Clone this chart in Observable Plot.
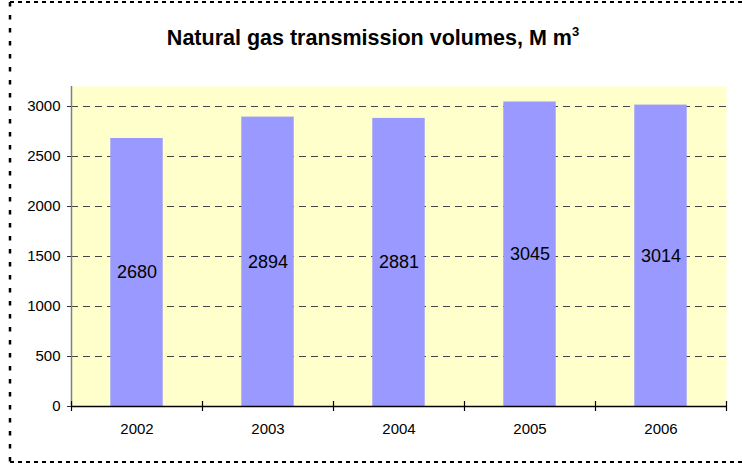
<!DOCTYPE html>
<html><head><meta charset="utf-8">
<script src="https://cdn.jsdelivr.net/npm/d3@7"></script>
<script src="https://cdn.jsdelivr.net/npm/@observablehq/plot@0.6"></script>
<style>
body{margin:0;background:#fff;}
#wrap{position:relative;width:742px;height:464px;overflow:hidden;font-family:"Liberation Sans",Arial,sans-serif;}
#title{position:absolute;left:0;top:28px;width:746px;text-align:center;font-weight:bold;font-size:21.5px;line-height:21px;color:#000;white-space:nowrap;}
#title sup{font-size:13px;line-height:0;vertical-align:0;position:relative;top:-9px;}
#chart{position:absolute;left:0;top:0;}
#border{position:absolute;left:0;top:0;pointer-events:none;}
</style></head><body>
<div id="wrap">
<div id="chart"></div>
<div id="title">Natural gas transmission volumes, M m<sup>3</sup></div>
<svg id="border" width="742" height="464">
<line x1="10" y1="2" x2="742" y2="2" stroke="#000" stroke-width="2" stroke-dasharray="4,4"/>
<line x1="10" y1="2" x2="10" y2="462" stroke="#000" stroke-width="2.5" stroke-dasharray="4.5,8.5"/>
<line x1="10" y1="462" x2="742" y2="462" stroke="#000" stroke-width="2" stroke-dasharray="4,4"/>
</svg>
</div>
<script>
const years = [2002, 2003, 2004, 2005, 2006];
const volumes = [2680, 2894, 2881, 3045, 3014];
const yTicks = [0, 500, 1000, 1500, 2000, 2500, 3000];
const gridTicks = [500, 1000, 1500, 2000, 2500, 3000];
const xBounds = [2001.5, 2002.5, 2003.5, 2004.5, 2005.5, 2006.5];

const data = years.map((year, i) => ({year, value: volumes[i]}));

const chart = Plot.plot({
  width: 742,
  height: 464,
  marginTop: 86,
  marginBottom: 58,
  marginLeft: 71,
  marginRight: 16,
  style: {fontFamily: '"Liberation Sans", Arial, sans-serif', background: "transparent", color: "#000"},
  x: {type: "linear", domain: [2001.5, 2006.5]},
  y: {domain: [0, 3200]},
  marks: [
    Plot.frame({fill: "#FFFFCC", stroke: null}),
    Plot.gridY(gridTicks, {stroke: "#444", strokeOpacity: 1, strokeWidth: 1, strokeDasharray: "7,5"}),
    Plot.rectY(data, {x1: d => d.year - 0.2, x2: d => d.year + 0.2, y: "value", fill: "#9999FF"}),
    Plot.ruleX([xBounds[0]], {stroke: "#808080", strokeWidth: 1.5}),
    Plot.ruleY([0], {stroke: "#000", strokeWidth: 1.3}),
    Plot.ruleX(xBounds, {x: d => d, y1: 0, y2: 0, insetTop: -5, insetBottom: -5, stroke: "#000", strokeWidth: 1.2}),
    Plot.axisY({ticks: yTicks, tickSize: 4, tickPadding: 7, fontSize: 15, tickFormat: d => String(d), label: null, stroke: "#333"}),
    Plot.axisX({ticks: years, tickSize: 0, tickPadding: 17, fontSize: 15, tickFormat: d => String(d), label: null}),
    Plot.text(data, {x: "year", y: d => d.value / 2, text: d => String(d.value), fontSize: 18, fill: "#000"})
  ]
});
document.getElementById("chart").appendChild(chart);
</script>
</body></html>
